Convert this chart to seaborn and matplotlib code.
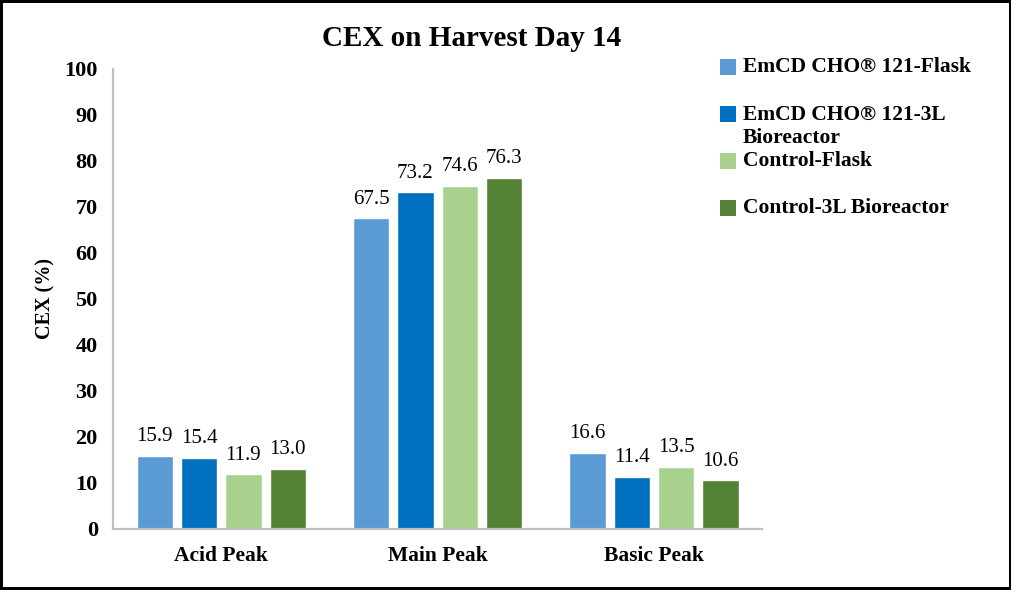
import numpy as np
import pandas as pd
import matplotlib
matplotlib.use("Agg")
import matplotlib.pyplot as plt
from matplotlib.patches import Rectangle
import seaborn as sns

# data
peaks = ["Acid Peak", "Main Peak", "Basic Peak"]
conditions = ["EmCD CHO® 121-Flask", "EmCD CHO® 121-3L\nBioreactor",
              "Control-Flask", "Control-3L Bioreactor"]
emcd_flask = [15.9, 67.5, 16.6]
emcd_3l = [15.4, 73.2, 11.4]
control_flask = [11.9, 74.6, 13.5]
control_3l = [13.0, 76.3, 10.6]

colors = ["#5B9BD5", "#0070C0", "#A9D18E", "#548235"]

# long-form table for seaborn
rows = []
for cond, vals in zip(conditions, [emcd_flask, emcd_3l, control_flask, control_3l]):
    for peak, v in zip(peaks, vals):
        rows.append({"peak": peak, "condition": cond, "value": v})
df = pd.DataFrame(rows)

sns.set_style("white")
plt.rcParams["font.family"] = ["Liberation Serif", "DejaVu Serif"]
plt.rcParams["text.color"] = "black"
plt.rcParams["axes.labelcolor"] = "black"

fig = plt.figure(figsize=(10.12, 5.9), dpi=100, linewidth=4, edgecolor="black")
ax = fig.add_axes([0.1117, 0.1034, 0.6413, 0.7797])

sns.barplot(data=df, x="peak", y="value", hue="condition", hue_order=conditions,
            palette=colors, width=0.82, gap=0.18, saturation=1, ax=ax, legend=False)

for cont in ax.containers:
    ax.bar_label(cont, fmt="%.1f", padding=7, fontsize=15, color="black")

ax.set_ylim(0, 100)
ax.set_yticks(np.arange(0, 101, 10))
ax.set_xlim(-0.5, 2.5)
ax.set_xlabel("")
ax.set_ylabel("CEX (%)", fontsize=14.5, fontweight="bold")
ax.yaxis.set_label_coords(-0.089, 0.5)

for side in ["top", "right"]:
    ax.spines[side].set_visible(False)
for side in ["left", "bottom"]:
    ax.spines[side].set_color("#BFBFBF")
    ax.spines[side].set_linewidth(1.6)

ax.tick_params(axis="y", direction="in", length=5, width=1.6, color="#BFBFBF",
               pad=11, labelsize=16, labelcolor="black")
ax.tick_params(axis="x", length=0, pad=12, labelsize=15.5, labelcolor="black")
for lbl in ax.get_xticklabels() + ax.get_yticklabels():
    lbl.set_fontweight("bold")

fig.text(472 / 1012, 1 - 38 / 590, "CEX on Harvest Day 14", ha="center", va="center",
         fontsize=21, fontweight="bold")

# legend laid out like the original (Excel-style spacing)
W, H = 1012, 590
square_y = [67, 114, 161, 208]
text_y = [67, 126.5, 161, 208]
for cond, col, sy, ty in zip(conditions, colors, square_y, text_y):
    fig.patches.append(Rectangle((720 / W, 1 - (sy + 8) / H), 16 / W, 16 / H,
                                 transform=fig.transFigure, facecolor=col,
                                 edgecolor="none"))
    fig.text(743 / W, 1 - ty / H, cond, ha="left", va="center", fontsize=15.5,
             fontweight="bold", linespacing=1.15)

fig.savefig("out.png", dpi=100)
